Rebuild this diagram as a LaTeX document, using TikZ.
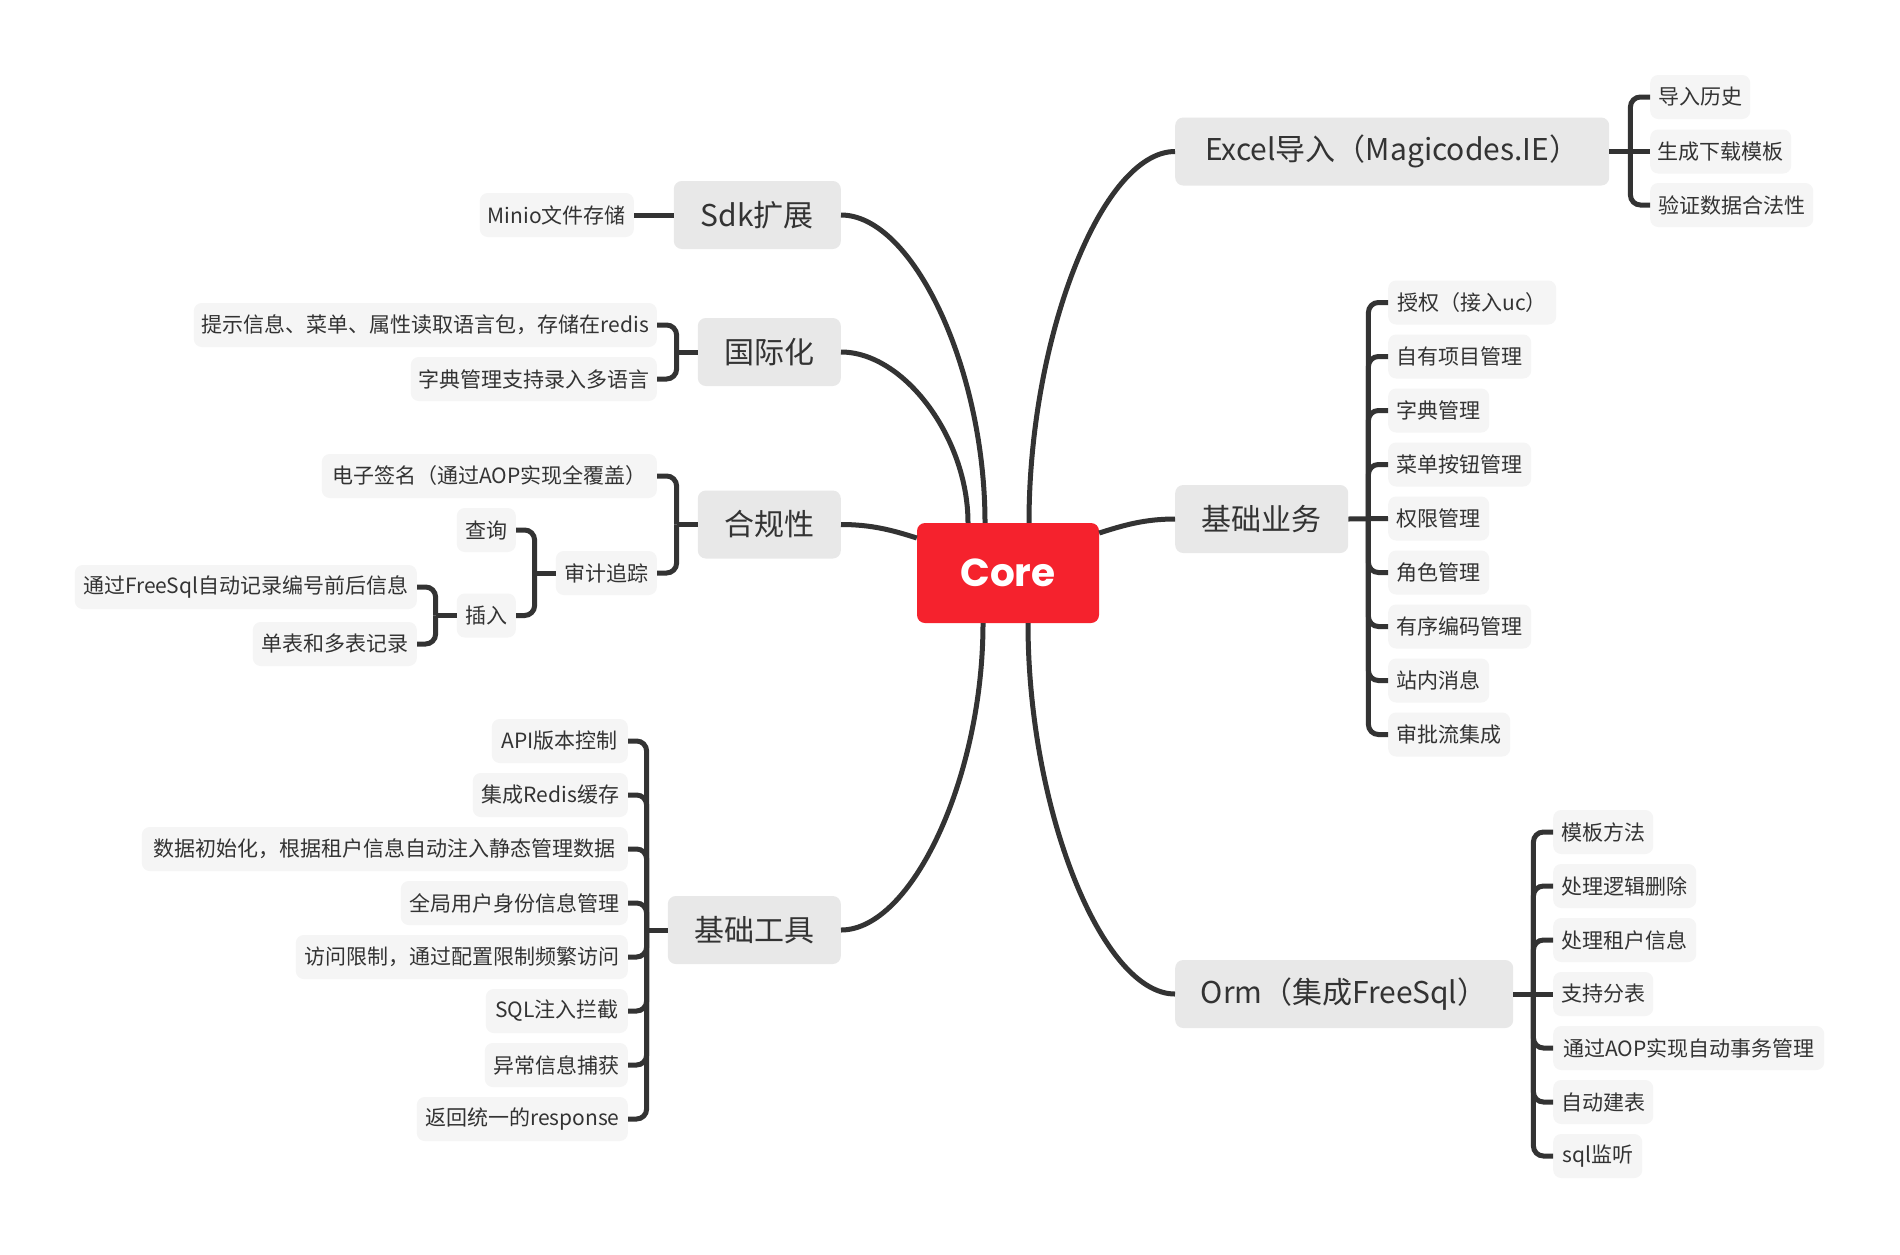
\documentclass[tikz,border=0pt]{standalone}
\usepackage{fontspec}
\setmainfont{Noto Sans CJK SC}
\newfontfamily\corefont{Poppins}
\usetikzlibrary{calc}
\definecolor{linec}{HTML}{333333}
\definecolor{mainfill}{HTML}{E8E8E8}
\definecolor{subfill}{HTML}{F5F5F5}
\definecolor{corered}{HTML}{F5222D}
\definecolor{txt}{HTML}{333333}
\begin{document}
\begin{tikzpicture}[x=1pt,y=-1pt,
  mainbox/.style={fill=mainfill, rounded corners=8pt, minimum height=68pt, inner sep=0pt, text=txt, font=\fontsize{30}{36}\selectfont},
  subbox/.style={fill=subfill, rounded corners=8pt, minimum height=44pt, inner sep=0pt, text=txt, font=\fontsize{21}{25}\selectfont},
  conn/.style={draw=linec, line width=5pt},
  br/.style={draw=linec, line width=5pt, rounded corners=10pt},
]
\fill[white] (0,0) rectangle (1900,1254);
\useasboundingbox (0,0) rectangle (1900,1254);

% central
\node[fill=corered, rounded corners=8pt, minimum width=182pt, minimum height=100pt, inner sep=0pt, text=white, font=\corefont\bfseries\fontsize{39}{46}\selectfont] (core) at (1008,573) {Core};

% main topics
\node[mainbox, minimum width=434pt, anchor=west] (excel) at (1175,151.5) {Excel导入（Magicodes.IE）};
\node[mainbox, minimum width=173pt, anchor=west] (biz) at (1175,519) {基础业务};
\node[mainbox, minimum width=338pt, anchor=west] (orm) at (1175,994) {Orm（集成FreeSql）};
\node[mainbox, minimum width=167pt, anchor=east] (sdk) at (841,215) {Sdk扩展};
\node[mainbox, minimum width=143pt, anchor=east] (i18n) at (841,352) {国际化};
\node[mainbox, minimum width=143pt, anchor=east] (comp) at (841,524.5) {合规性};
\node[mainbox, minimum width=173pt, anchor=east] (tools) at (841,930) {基础工具};

% main connectors
\draw[conn] ([xshift=-23pt]core.north) .. controls +(0,-154) and +(72,0) .. (sdk.east);
\draw[conn] ([xshift=-40pt]core.north) .. controls +(0,-85) and +(63,0) .. (i18n.east);
\draw[conn] ([yshift=35pt]core.west) .. controls +(-25,-8) and +(30,0) .. (comp.east);
\draw[conn] ([xshift=-25pt]core.south) .. controls +(0,154) and +(71,0) .. (tools.east);
\draw[conn] ([xshift=21pt]core.north) .. controls +(0,-186) and +(-73,0) .. (excel.west);
\draw[conn] ([yshift=40pt]core.east) .. controls +(25,-8) and +(-30,0) .. (biz.west);
\draw[conn] ([xshift=20pt]core.south) .. controls +(0,186) and +(-73,0) .. (orm.west);

% Excel subs
\node[subbox, minimum width=100pt, anchor=west] (e1) at (1650,97) {导入历史};
\node[subbox, minimum width=141pt, anchor=west] (e2) at (1650,151.5) {生成下载模板};
\node[subbox, minimum width=163pt, anchor=west] (e3) at (1650,205) {验证数据合法性};
\coordinate (excelj) at ($(excel.east)+(21,0)$);
\draw[conn] (excel.east) -- (e2.west);
\draw[br] (excelj) |- (e1.west);
\draw[br] (excelj) |- (e3.west);

% 基础业务 subs
\node[subbox, minimum width=168pt, anchor=west] (b1) at (1388,302.5) {授权（接入uc）};
\node[subbox, minimum width=143pt, anchor=west] (b2) at (1388,356.5) {自有项目管理};
\node[subbox, minimum width=101pt, anchor=west] (b3) at (1388,410.5) {字典管理};
\node[subbox, minimum width=143pt, anchor=west] (b4) at (1388,464.5) {菜单按钮管理};
\node[subbox, minimum width=101pt, anchor=west] (b5) at (1388,518.5) {权限管理};
\node[subbox, minimum width=101pt, anchor=west] (b6) at (1388,572.5) {角色管理};
\node[subbox, minimum width=143pt, anchor=west] (b7) at (1388,626.5) {有序编码管理};
\node[subbox, minimum width=101pt, anchor=west] (b8) at (1388,680.5) {站内消息};
\node[subbox, minimum width=122pt, anchor=west] (b9) at (1388,734.5) {审批流集成};
\coordinate (bizj) at ($(biz.east)+(20,0)$);
\draw[conn] (biz.east) -- (b5.west);
\foreach \c in {b1,b2,b3,b4,b6,b7,b8,b9} {\draw[br] (bizj) |- (\c.west);}

% Orm subs
\node[subbox, minimum width=100pt, anchor=west] (o1) at (1553,832) {模板方法};
\node[subbox, minimum width=143pt, anchor=west] (o2) at (1553,886) {处理逻辑删除};
\node[subbox, minimum width=143pt, anchor=west] (o3) at (1553,940) {处理租户信息};
\node[subbox, minimum width=100pt, anchor=west] (o4) at (1553,994) {支持分表};
\node[subbox, minimum width=271pt, anchor=west] (o5) at (1553,1048) {通过AOP实现自动事务管理};
\node[subbox, minimum width=100pt, anchor=west] (o6) at (1553,1102) {自动建表};
\node[subbox, minimum width=89pt, anchor=west] (o7) at (1553,1156) {sql监听};
\coordinate (ormj) at ($(orm.east)+(20,0)$);
\draw[conn] (orm.east) -- (o4.west);
\foreach \c in {o1,o2,o3,o5,o6,o7} {\draw[br] (ormj) |- (\c.west);}

% Sdk sub
\node[subbox, minimum width=154pt, anchor=east] (m1) at (634,215) {Minio文件存储};
\draw[conn] (sdk.west) -- (m1.east);

% 国际化 subs
\node[subbox, minimum width=463pt, anchor=east] (g1) at (657,325) {提示信息、菜单、属性读取语言包，存储在redis};
\node[subbox, minimum width=246pt, anchor=east] (g2) at (657,379) {字典管理支持录入多语言};
\coordinate (i18nj) at ($(i18n.west)+(-21,0)$);
\draw[conn] (i18n.west) -- (i18nj);
\draw[br] (i18nj) |- (g1.east);
\draw[br] (i18nj) |- (g2.east);

% 合规性 subs
\node[subbox, minimum width=335pt, anchor=east] (c1) at (657,476) {电子签名（通过AOP实现全覆盖）};
\node[subbox, minimum width=101pt, anchor=east] (c2) at (657,573) {审计追踪};
\coordinate (compj) at ($(comp.west)+(-21,0)$);
\draw[conn] (comp.west) -- (compj);
\draw[br] (compj) |- (c1.east);
\draw[br] (compj) |- (c2.east);

% 审计追踪 subs
\node[subbox, minimum width=59pt, anchor=east] (a1) at (516,530) {查询};
\node[subbox, minimum width=59pt, anchor=east] (a2) at (516,615.5) {插入};
\coordinate (auditj) at ($(c2.west)+(-21,0)$);
\draw[conn] (c2.west) -- (auditj);
\draw[br] (auditj) |- (a1.east);
\draw[br] (auditj) |- (a2.east);

% 插入 subs
\node[subbox, minimum width=342pt, anchor=east] (n1) at (417,587) {通过FreeSql自动记录编号前后信息};
\node[subbox, minimum width=164pt, anchor=east] (n2) at (417,644) {单表和多表记录};
\coordinate (insj) at ($(a2.west)+(-21,0)$);
\draw[conn] (a2.west) -- (insj);
\draw[br] (insj) |- (n1.east);
\draw[br] (insj) |- (n2.east);

% 基础工具 subs
\node[subbox, minimum width=136pt, anchor=east] (t1) at (628,741) {API版本控制};
\node[subbox, minimum width=155pt, anchor=east] (t2) at (628,795) {集成Redis缓存};
\node[subbox, minimum width=486pt, anchor=east] (t3) at (628,849) {数据初始化，根据租户信息自动注入静态管理数据\ };
\node[subbox, minimum width=227pt, anchor=east] (t4) at (628,903) {全局用户身份信息管理};
\node[subbox, minimum width=332pt, anchor=east] (t5) at (628,957) {访问限制，通过配置限制频繁访问};
\node[subbox, minimum width=142pt, anchor=east] (t6) at (628,1011) {SQL注入拦截};
\node[subbox, minimum width=143pt, anchor=east] (t7) at (628,1065) {异常信息捕获};
\node[subbox, minimum width=211pt, anchor=east] (t8) at (628,1119) {返回统一的response};
\coordinate (toolsj) at ($(tools.west)+(-21,0)$);
\draw[conn] (tools.west) -- (toolsj);
\foreach \c in {t1,t2,t3,t4,t5,t6,t7,t8} {\draw[br] (toolsj) |- (\c.east);}
\end{tikzpicture}
\end{document}
